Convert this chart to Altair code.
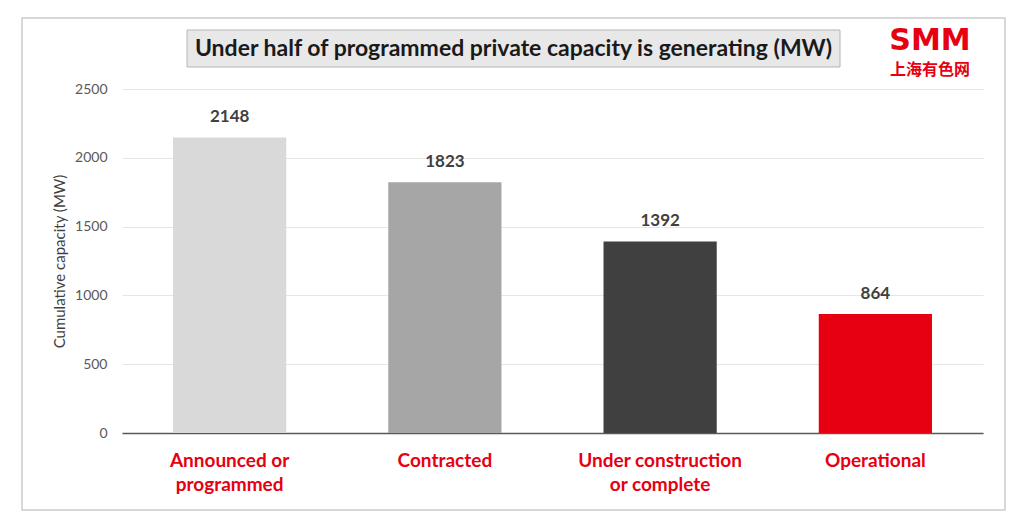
import altair as alt
import pandas as pd

categories = ["Announced or programmed", "Contracted", "Under construction or complete", "Operational"]
values = [2148, 1823, 1392, 864]
colors = ["#d9d9d9", "#a6a6a6", "#404040", "#e60012"]
label_lines = {
    "Announced or programmed": ["Announced or", "programmed"],
    "Contracted": ["Contracted"],
    "Under construction or complete": ["Under construction", "or complete"],
    "Operational": ["Operational"],
}
title_text = "Under half of programmed private capacity is generating (MW)"
y_title = "Cumulative capacity (MW)"
y_ticks = [0, 500, 1000, 1500, 2000, 2500]

df = pd.DataFrame({"category": categories, "value": values, "color": colors})

label_expr = " : ".join(
    [f"datum.label == '{k}' ? {v}" for k, v in label_lines.items()]
) + " : datum.label"

FONT = "Lato"
yscale = alt.Scale(domain=[0, 2500], nice=False, zero=True)

x = alt.X(
    "category:N",
    sort=categories,
    scale=alt.Scale(paddingInner=0.474, paddingOuter=0.237),
    axis=alt.Axis(
        title=None, labelAngle=0, labelExpr=label_expr, labelColor="#e60012",
        labelFontSize=19, labelFontWeight="bold", labelFont=FONT, labelPadding=18,
        labelLineHeight=24, labelBaseline="top", ticks=False, domainColor="#595959",
        domainWidth=1.5, grid=False,
    ),
)
y = alt.Y(
    "value:Q",
    scale=yscale,
    axis=alt.Axis(
        title=y_title, values=y_ticks, format="d", labelColor="#595959", labelFontSize=14,
        labelFont=FONT, tickSize=0, labelPadding=15, domain=False, gridColor="#e6e6e6",
        titleFont=FONT, titleFontSize=15, titleFontWeight="normal", titleColor="#404040",
        titlePadding=7,
    ),
)

bars = alt.Chart(df).mark_bar().encode(
    x=x, y=y, color=alt.Color("color:N", scale=None)
)
texts = alt.Chart(df).mark_text(
    dy=-20, font=FONT, fontSize=17, fontWeight="bold", color="#404040"
).encode(
    x=alt.X("category:N", sort=categories),
    y=alt.Y("value:Q", scale=yscale),
    text="value:Q",
)

one = pd.DataFrame({"a": [0]})
border = alt.Chart(one).mark_rect(fill=None, stroke="#cccccc", strokeWidth=1.5).encode(
    x=alt.value(-100), x2=alt.value(883), y=alt.value(-71), y2=alt.value(421)
)
title_box = alt.Chart(one).mark_rect(fill="#e8e8e8", stroke="#b5b5b5", strokeWidth=1).encode(
    x=alt.value(65), x2=alt.value(718), y=alt.value(-59), y2=alt.value(-22)
)
title = alt.Chart(one).mark_text(
    text=title_text, font=FONT, fontSize=23, fontWeight="bold", color="#1a1a1a",
    align="center", baseline="middle"
).encode(x=alt.value(391.5), y=alt.value(-40))
logo1 = alt.Chart(one).mark_text(
    text="SMM", font="DejaVu Sans", fontSize=30, fontWeight="bold",
    color="#e60012", align="center", baseline="middle"
).encode(x=alt.value(808), y=alt.value(-48))
logo2 = alt.Chart(one).mark_text(
    text="上海有色网", font="Noto Sans CJK SC", fontSize=16, fontWeight="bold",
    color="#e60012", align="center", baseline="middle"
).encode(x=alt.value(808), y=alt.value(-19))

chart = alt.layer(border, title_box, title, logo1, logo2, bars, texts).properties(
    width=861, height=344,
    autosize=alt.AutoSizeParams(type="none"),
    padding={"left": 114, "top": 81, "right": 33, "bottom": 80},
).configure(background="white").configure_view(strokeWidth=0, stroke="transparent")

chart.save("out.html", embed_options={"renderer": "svg", "actions": False})
